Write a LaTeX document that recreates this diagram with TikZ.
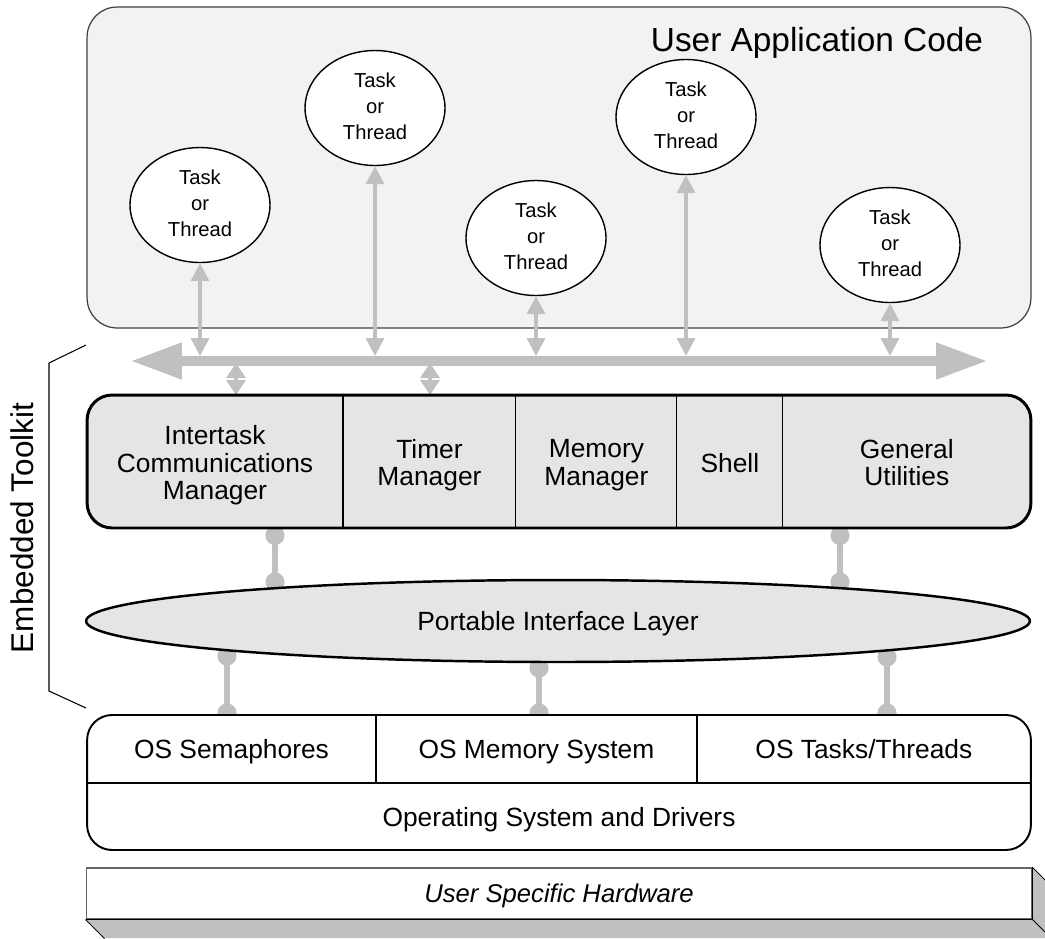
\documentclass[tikz,border=0pt]{standalone}
\usepackage{fontspec}
\setmainfont{Liberation Sans}
\usetikzlibrary{arrows.meta,shapes.geometric,positioning}
\definecolor{appgray}{HTML}{F2F2F2}
\definecolor{boxgray}{HTML}{E5E5E5}
\definecolor{linkgray}{HTML}{C0C0C0}
\tikzset{
  appbox/.style    = {draw=black!75, fill=appgray, rounded corners=0.6cm, line width=0.7pt,
                      minimum width=18.88cm, minimum height=6.42cm, inner sep=0pt},
  task/.style      = {draw, ellipse, fill=white, line width=0.8pt, minimum width=2.8cm,
                      minimum height=2.3cm, inner sep=0pt, align=center, text depth=2pt,
                      font=\fontsize{11.5}{15}\selectfont},
  busarrow/.style  = {linkgray, line width=6pt,
                      {Triangle[length=1.04cm,width=0.68cm]}-{Triangle[length=1.04cm,width=0.68cm]}},
  taskarrow/.style = {linkgray, line width=2pt,
                      {Triangle[length=0.36cm,width=0.36cm]}-{Triangle[length=0.36cm,width=0.36cm]}},
  dockarrow/.style = {linkgray, line width=2pt,
                      {Triangle[length=0.3cm,width=0.38cm]}-{Triangle[length=0.3cm,width=0.38cm]}},
  dotlink/.style   = {linkgray, line width=3.4pt, {Circle[length=0.38cm]}-{Circle[length=0.38cm]}},
  toolbox/.style   = {draw, fill=boxgray, rounded corners=0.5cm, line width=1.7pt,
                      minimum width=18.88cm, minimum height=2.66cm, inner sep=0pt},
  tkcell/.style    = {minimum height=2.66cm, inner sep=0pt, outer sep=0pt, align=center,
                      text depth=0pt, font=\fontsize{15}{15.5}\selectfont},
  layer/.style     = {draw, ellipse, fill=boxgray, line width=1.4pt, minimum width=18.88cm,
                      minimum height=1.64cm, inner sep=0pt, text depth=0pt,
                      font=\fontsize{15}{18}\selectfont},
  osbox/.style     = {draw, fill=white, rounded corners=0.5cm, line width=1.1pt,
                      minimum width=18.88cm, minimum height=2.7cm, inner sep=0pt},
  oscell/.style    = {inner sep=0pt, outer sep=0pt, text depth=0pt, font=\fontsize{15}{18}\selectfont},
  hwfront/.style   = {draw=black!60, fill=white, line width=0.6pt, minimum width=18.92cm,
                      minimum height=1.02cm, inner sep=0pt, text depth=0pt,
                      font=\fontsize{14.6}{18}\selectfont\itshape}
}

\begin{document}
\begin{tikzpicture}[x=0.02cm, y=-0.02cm]
  \useasboundingbox (0,0) rectangle (1045,938);
  \clip (0,0) rectangle (1045,938);

  % application code
  \node[appbox] (app) at (559,167.5) {};
  \node[font=\fontsize{19}{22}\selectfont] (apptitle) at (817,43) {User Application Code};

  \node[task] (t1) at (200,205) {Task\\or\\Thread};
  \node[task] (t2) at (375,108) {Task\\or\\Thread};
  \node[task] (t3) at (536,238) {Task\\or\\Thread};
  \node[task] (t4) at (686,117) {Task\\or\\Thread};
  \node[task] (t5) at (890,245) {Task\\or\\Thread};

  % bus
  \coordinate (busL) at (130,361);
  \coordinate (busR) at (988,361);
  \coordinate (bustop) at (0,356);
  \draw[busarrow] (busL) -- (busR);
  \foreach \t in {t1,t2,t3,t4,t5}
    \draw[taskarrow] (\t.south) -- (\t.south |- bustop);

  \coordinate (dockA top) at (236,363);
  \coordinate (dockA bot) at (236,395);
  \coordinate (dockB top) at (430,363);
  \coordinate (dockB bot) at (430,395);
  \draw[dockarrow] (dockA top) -- (dockA bot);
  \draw[dockarrow] (dockB top) -- (dockB bot);

  % links to the interface layer
  \coordinate (pa1) at (275,526);   \coordinate (pa2) at (275,591.5);
  \coordinate (pb1) at (840,526);   \coordinate (pb2) at (840,591.5);
  \coordinate (pc1) at (227,646.5); \coordinate (pc2) at (227,722.5);
  \coordinate (pd1) at (539,658.5); \coordinate (pd2) at (539,722.5);
  \coordinate (pe1) at (887,647.5); \coordinate (pe2) at (887,722.5);
  \foreach \p in {pa,pb,pc,pd,pe}
    \draw[dotlink] (\p1) -- (\p2);

  % embedded toolkit
  \node[toolbox] (toolkit) at (559,461.5) {};
  \node[tkcell, minimum width=5.12cm] (icm) at (215,462.5) {Intertask\\Communications\\Manager};
  \node[tkcell, minimum width=3.46cm, right=0pt of icm] (timer) {Timer\\Manager};
  \node[tkcell, minimum width=3.22cm, right=0pt of timer] (memory) {Memory\\Manager};
  \node[tkcell, minimum width=2.12cm, right=0pt of memory] (shell) {Shell};
  \node[tkcell, minimum width=4.96cm, right=0pt of shell] (utils) {General\\Utilities};
  \foreach \c in {icm,timer,memory,shell}
    \draw[line width=0.6pt] (\c.east |- toolkit.north) -- (\c.east |- toolkit.south);

  \node[layer] (pil) at (558,621) {Portable Interface Layer};

  % operating system
  \node[osbox] (os) at (559,782.5) {};
  \node[oscell, minimum width=5.78cm, minimum height=1.36cm] (sem) at (231.5,749) {OS Semaphores};
  \node[oscell, minimum width=6.42cm, minimum height=1.36cm, right=0pt of sem] (osmem) {OS Memory System};
  \node[oscell, minimum width=6.68cm, minimum height=1.36cm, right=0pt of osmem] (ostask) {OS Tasks/Threads};
  \node[oscell, minimum width=18.88cm, minimum height=1.34cm] (drivers) at (559,817) {Operating System and Drivers};
  \draw[line width=0.7pt] (sem.east |- os.north) -- (sem.south east);
  \draw[line width=0.7pt] (osmem.east |- os.north) -- (osmem.south east);
  \draw[line width=0.8pt] (os.west |- sem.south) -- (os.east |- sem.south);

  % hardware
  \fill[linkgray] (86,919) -- (1032,919) -- (1051,938) -- (105,938) -- cycle;
  \fill[linkgray] (1032,868) -- (1051,887) -- (1051,938) -- (1032,919) -- cycle;
  \node[hwfront] (hw) at (559,893.5) {User Specific Hardware};
  \draw[line width=0.7pt] (hw.south west) -- (hw.south east) -- (hw.north east);
  \draw[line width=0.5pt] (hw.south west) -- ++(19,19);
  \draw[line width=0.5pt] (hw.south east) -- ++(19,19);
  \draw[line width=0.5pt] (hw.north east) -- ++(19,19);

  % bracket
  \draw[line width=0.6pt] (86,345) -- (49,363) -- (49,691) -- (86,708);
  \node[rotate=90, font=\fontsize{17.9}{20}\selectfont] (ektitle) at (22,528) {Embedded Toolkit};
\end{tikzpicture}
\end{document}
